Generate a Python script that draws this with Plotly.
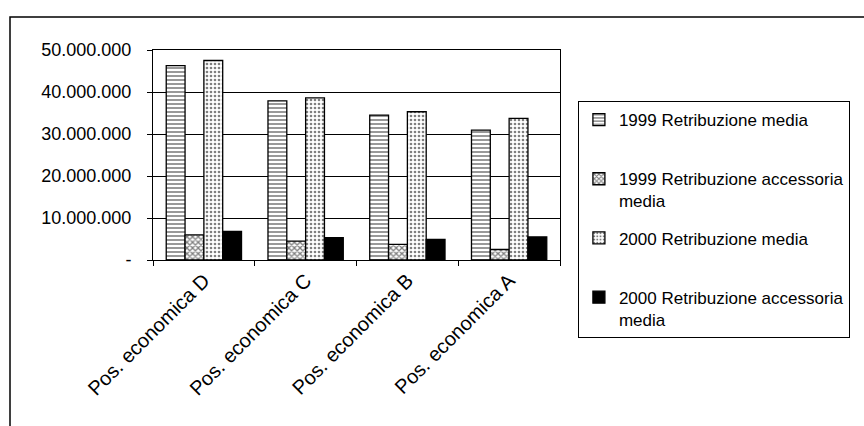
import plotly.graph_objects as go

# Categories (economic positions) and average pay per year
categories = ["Pos. economica D", "Pos. economica C", "Pos. economica B", "Pos. economica A"]
retr_media_1999 = [46300000, 37900000, 34500000, 30900000]
retr_accessoria_1999 = [6000000, 4500000, 3700000, 2500000]
retr_media_2000 = [47500000, 38600000, 35300000, 33700000]
retr_accessoria_2000 = [6800000, 5300000, 4900000, 5500000]

series_names = [
    "1999 Retribuzione media<br> ",
    "1999 Retribuzione accessoria<br>media",
    "2000 Retribuzione media<br> ",
    "2000 Retribuzione accessoria<br>media",
]

y_tickvals = [0, 10000000, 20000000, 30000000, 40000000, 50000000]
y_ticktext = ["-", "10.000.000", "20.000.000", "30.000.000", "40.000.000", "50.000.000"]

FONT = "Arial, Liberation Sans, sans-serif"

# Fill patterns for each series (black & white hatching)
styles = [
    dict(color="white", pattern=dict(shape="-", fgcolor="black", bgcolor="white", size=4, solidity=0.4)),
    dict(color="white", pattern=dict(shape="x", fgcolor="black", bgcolor="white", size=4, solidity=0.55)),
    dict(color="white", pattern=dict(shape=".", fgcolor="black", bgcolor="white", size=4, solidity=0.35)),
    dict(color="black"),
]

fig = go.Figure()
for name, values, style in zip(
    series_names,
    [retr_media_1999, retr_accessoria_1999, retr_media_2000, retr_accessoria_2000],
    styles,
):
    fig.add_trace(go.Bar(
        x=categories,
        y=values,
        name=name,
        legendgroup=name,
        marker=dict(line=dict(color="black", width=1.3), **style),
    ))

fig.update_layout(
    width=864,
    height=426,
    margin=dict(l=153, r=304, t=50, b=166, autoexpand=False),
    paper_bgcolor="white",
    plot_bgcolor="white",
    barmode="group",
    bargap=0.26,
    bargroupgap=0,
    font=dict(family=FONT, color="black"),
    showlegend=True,
    legend=dict(
        x=1.044, xanchor="left",
        y=(260 - 101) / 210, yanchor="top",
        maxheight=300,
        bordercolor="black", borderwidth=1,
        font=dict(family=FONT, size=17, color="black"),
        tracegroupgap=12,
        valign="top",
        bgcolor="white",
    ),
    xaxis=dict(
        automargin=False,
        showline=True, linecolor="black", linewidth=1, mirror=True,
        ticks="outside", ticklen=5, tickcolor="black", tickson="boundaries",
        tickangle=-45,
        tickfont=dict(family=FONT, size=20, color="black"),
        showgrid=False,
    ),
    yaxis=dict(
        automargin=False,
        range=[0, 50000000],
        tickvals=y_tickvals, ticktext=y_ticktext,
        showline=True, linecolor="black", linewidth=1, mirror=True,
        ticks="outside", ticklen=5, tickcolor="black",
        ticklabelstandoff=12,
        tickfont=dict(family=FONT, size=18, color="black"),
        showgrid=True, gridcolor="black", gridwidth=1,
        zeroline=False,
    ),
    shapes=[
        # chart area frame
        dict(type="rect", xref="paper", yref="paper",
             x0=(10 - 153) / 407, x1=(872 - 153) / 407,
             y0=(260 - 434) / 210, y1=(260 - 17) / 210,
             line=dict(color="black", width=1.5), fillcolor="rgba(0,0,0,0)", layer="below"),
    ],
)

fig.write_html("out.html")
